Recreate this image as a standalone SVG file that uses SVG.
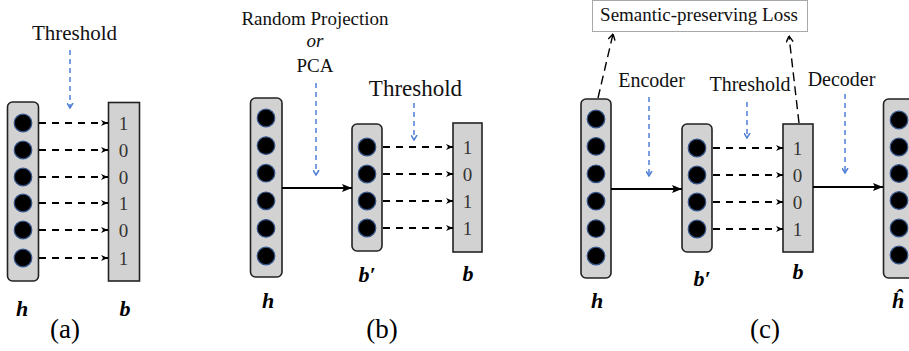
<svg xmlns="http://www.w3.org/2000/svg" width="909" height="351" viewBox="0 0 909 351">
<style>
.box{fill:#d3d2d2;stroke:#222;stroke-width:1.6}
.dot{fill:#000;stroke:#34558c;stroke-width:1.2}
.dash{stroke:#000;stroke-width:2;stroke-dasharray:7 6;fill:none}
.blue{stroke:#4f7fd6;stroke-width:1.5;stroke-dasharray:5 4;fill:none}
.solid{stroke:#000;stroke-width:2;fill:none}
.loss{stroke:#000;stroke-width:1.4;stroke-dasharray:9 5;fill:none}
.t{font-family:"Liberation Serif","Times New Roman",serif;fill:#111}
.v{font-family:"Liberation Serif","Times New Roman",serif;font-weight:bold;font-style:italic;font-size:22px;fill:#000;text-anchor:middle}
.d{font-family:"Liberation Serif","Times New Roman",serif;font-size:19px;fill:#333;text-anchor:middle}
.cap{font-family:"Liberation Serif","Times New Roman",serif;font-size:27px;fill:#000;text-anchor:middle}
</style>
<defs>
<marker id="aSolid" markerUnits="userSpaceOnUse" viewBox="0 0 10 8" refX="10" refY="4" markerWidth="10" markerHeight="8" orient="auto">
<path d="M0,0 L10,4 L0,8 L2,4 z" fill="#000"/>
</marker>
<marker id="aDash" markerUnits="userSpaceOnUse" viewBox="0 0 7 6" refX="7" refY="3" markerWidth="7" markerHeight="6" orient="auto">
<path d="M0,0 L7,3 L0,6 L2,3 z" fill="#000"/>
</marker>
<marker id="aBlue" markerUnits="userSpaceOnUse" viewBox="0 0 6 7" refX="5.5" refY="3.5" markerWidth="6" markerHeight="7" orient="auto">
<path d="M0.5,0.5 L5.5,3.5 L0.5,6.5" fill="none" stroke="#4f7fd6" stroke-width="1.5"/>
</marker>
<marker id="aLoss" markerUnits="userSpaceOnUse" viewBox="0 0 7 8" refX="6.5" refY="4" markerWidth="7" markerHeight="8" orient="auto">
<path d="M0.5,0.5 L6.5,4 L0.5,7.5" fill="none" stroke="#000" stroke-width="1.4"/>
</marker>
</defs>

<!-- Panel (a) -->
<text class="t" x="74.5" y="40" font-size="21" text-anchor="middle">Threshold</text>
<g id="a_h">
<rect class="box" x="7.5" y="102" width="31" height="179" rx="5"/>
<circle class="dot" cx="23" cy="123" r="8.8"/>
<circle class="dot" cx="23" cy="150" r="8.8"/>
<circle class="dot" cx="23" cy="177" r="8.8"/>
<circle class="dot" cx="23" cy="203" r="8.8"/>
<circle class="dot" cx="23" cy="230" r="8.8"/>
<circle class="dot" cx="23" cy="258" r="8.8"/>
<text class="v" x="22" y="316">h</text>
</g>
<g id="a_b">
<rect class="box" x="108.5" y="102.5" width="31" height="178.5"/>
<text class="d" x="123.5" y="129.5">1</text>
<text class="d" x="123.5" y="156.5">0</text>
<text class="d" x="123.5" y="183.5">0</text>
<text class="d" x="123.5" y="209.5">1</text>
<text class="d" x="123.5" y="236.5">0</text>
<text class="d" x="123.5" y="264.5">1</text>
<text class="v" x="125" y="316">b</text>
</g>
<text class="cap" x="65" y="338">(a)</text>

<!-- Panel (b) -->
<text class="t" x="315" y="25" font-size="19" text-anchor="middle">Random Projection</text>
<text class="t" x="315" y="47" font-size="19" font-style="italic" text-anchor="middle">or</text>
<text class="t" x="315" y="72" font-size="19" text-anchor="middle">PCA</text>
<text class="t" x="415.5" y="96" font-size="23" text-anchor="middle">Threshold</text>
<g id="b_h">
<rect class="box" x="250.5" y="98" width="31.5" height="179" rx="5"/>
<circle class="dot" cx="266" cy="118" r="8.8"/>
<circle class="dot" cx="266" cy="145.6" r="8.8"/>
<circle class="dot" cx="266" cy="173.2" r="8.8"/>
<circle class="dot" cx="266" cy="200.8" r="8.8"/>
<circle class="dot" cx="266" cy="228.4" r="8.8"/>
<circle class="dot" cx="266" cy="256" r="8.8"/>
<text class="v" x="268" y="308">h</text>
</g>
<g id="b_bp">
<rect class="box" x="352" y="124" width="30" height="127" rx="5"/>
<circle class="dot" cx="367" cy="147" r="8.8"/>
<circle class="dot" cx="367" cy="174" r="8.8"/>
<circle class="dot" cx="367" cy="201" r="8.8"/>
<circle class="dot" cx="367" cy="228" r="8.8"/>
<text class="v" x="367" y="282">b′</text>
</g>
<g id="b_b">
<rect class="box" x="453" y="123" width="29" height="129"/>
<text class="d" x="467.5" y="153.5">1</text>
<text class="d" x="467.5" y="180.5">0</text>
<text class="d" x="467.5" y="207.5">1</text>
<text class="d" x="467.5" y="234.5">1</text>
<text class="v" x="468" y="281">b</text>
</g>
<text class="cap" x="382" y="338">(b)</text>

<!-- Panel (c) -->
<g id="c_loss">
<rect x="592.5" y="0.5" width="215" height="31" fill="#fff" stroke="#a8a8a8" stroke-width="1"/>
<text class="t" x="699" y="20.5" font-size="19" text-anchor="middle">Semantic-preserving Loss</text>
</g>
<text class="t" x="651.5" y="87" font-size="20" text-anchor="middle">Encoder</text>
<text class="t" x="750" y="91" font-size="20" text-anchor="middle">Threshold</text>
<text class="t" x="841.5" y="86" font-size="20" text-anchor="middle">Decoder</text>
<g id="c_h">
<rect class="box" x="581" y="99" width="30" height="179" rx="5"/>
<circle class="dot" cx="596" cy="119" r="8.8"/>
<circle class="dot" cx="596" cy="146.4" r="8.8"/>
<circle class="dot" cx="596" cy="173.8" r="8.8"/>
<circle class="dot" cx="596" cy="201.2" r="8.8"/>
<circle class="dot" cx="596" cy="228.6" r="8.8"/>
<circle class="dot" cx="596" cy="256" r="8.8"/>
<text class="v" x="597" y="308">h</text>
</g>
<g id="c_bp">
<rect class="box" x="682" y="124" width="30" height="128" rx="5"/>
<circle class="dot" cx="697" cy="148" r="8.8"/>
<circle class="dot" cx="697" cy="175" r="8.8"/>
<circle class="dot" cx="697" cy="202" r="8.8"/>
<circle class="dot" cx="697" cy="229" r="8.8"/>
<text class="v" x="702" y="286">b′</text>
</g>
<g id="c_b">
<rect class="box" x="783" y="124" width="30" height="128"/>
<text class="d" x="797.5" y="154.5">1</text>
<text class="d" x="797.5" y="181.5">0</text>
<text class="d" x="797.5" y="208.5">0</text>
<text class="d" x="797.5" y="235.5">1</text>
<text class="v" x="798" y="279">b</text>
</g>
<g id="c_hhat">
<rect class="box" x="883.5" y="99" width="35" height="179" rx="5"/>
<circle class="dot" cx="899" cy="120" r="8.8"/>
<circle class="dot" cx="899" cy="147" r="8.8"/>
<circle class="dot" cx="899" cy="173.5" r="8.8"/>
<circle class="dot" cx="899" cy="200.5" r="8.8"/>
<circle class="dot" cx="899" cy="228" r="8.8"/>
<circle class="dot" cx="899" cy="255" r="8.8"/>
<text class="v" x="898" y="308">ĥ</text>
</g>
<text class="cap" x="765" y="338">(c)</text>

<g id="connectors">
<!-- panel a -->
<line class="blue" x1="70" y1="50" x2="70" y2="108" marker-end="url(#aBlue)"/>
<line class="dash" x1="39" y1="123" x2="108" y2="123" marker-end="url(#aDash)"/>
<line class="dash" x1="39" y1="150" x2="108" y2="150" marker-end="url(#aDash)"/>
<line class="dash" x1="39" y1="177" x2="108" y2="177" marker-end="url(#aDash)"/>
<line class="dash" x1="39" y1="203" x2="108" y2="203" marker-end="url(#aDash)"/>
<line class="dash" x1="39" y1="230" x2="108" y2="230" marker-end="url(#aDash)"/>
<line class="dash" x1="39" y1="258" x2="108" y2="258" marker-end="url(#aDash)"/>
<!-- panel b -->
<line class="blue" x1="316" y1="83" x2="316" y2="175" marker-end="url(#aBlue)"/>
<line class="blue" x1="414" y1="103" x2="414" y2="140" marker-end="url(#aBlue)"/>
<line class="solid" x1="282" y1="188" x2="352" y2="188" marker-end="url(#aSolid)"/>
<line class="dash" x1="383" y1="147" x2="453" y2="147" marker-end="url(#aDash)"/>
<line class="dash" x1="383" y1="174" x2="453" y2="174" marker-end="url(#aDash)"/>
<line class="dash" x1="383" y1="201" x2="453" y2="201" marker-end="url(#aDash)"/>
<line class="dash" x1="383" y1="228" x2="453" y2="228" marker-end="url(#aDash)"/>
<!-- panel c -->
<line class="loss" x1="598" y1="98" x2="613" y2="34" marker-end="url(#aLoss)"/>
<line class="loss" x1="799" y1="123" x2="789" y2="36" marker-end="url(#aLoss)"/>
<line class="blue" x1="649" y1="97" x2="649" y2="176" marker-end="url(#aBlue)"/>
<line class="blue" x1="747" y1="102" x2="747" y2="138" marker-end="url(#aBlue)"/>
<line class="blue" x1="845" y1="94" x2="845" y2="173" marker-end="url(#aBlue)"/>
<line class="solid" x1="611" y1="189" x2="682" y2="189" marker-end="url(#aSolid)"/>
<line class="solid" x1="813" y1="187" x2="883" y2="187" marker-end="url(#aSolid)"/>
<line class="dash" x1="713" y1="148" x2="783" y2="148" marker-end="url(#aDash)"/>
<line class="dash" x1="713" y1="175" x2="783" y2="175" marker-end="url(#aDash)"/>
<line class="dash" x1="713" y1="202" x2="783" y2="202" marker-end="url(#aDash)"/>
<line class="dash" x1="713" y1="229" x2="783" y2="229" marker-end="url(#aDash)"/>
</g>
</svg>
